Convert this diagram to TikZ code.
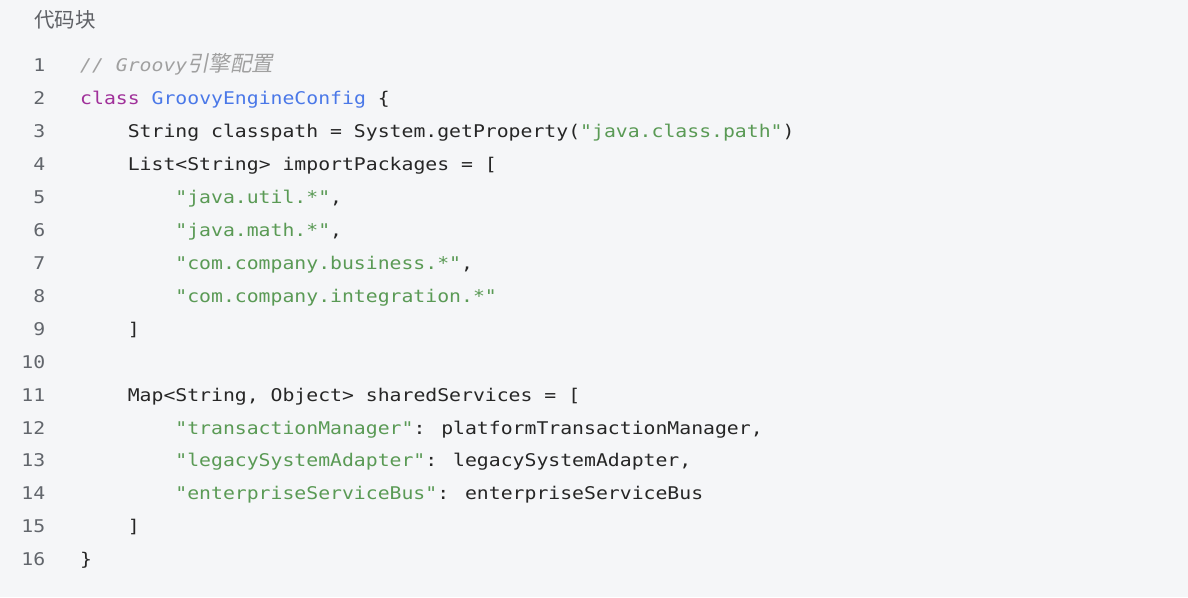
\documentclass[tikz,border=0pt]{standalone}
\usepackage{fontspec}
\newfontfamily\codefont{DejaVu Sans Mono}[FakeStretch=1.13]
\newfontfamily\cjkfont{Noto Sans CJK SC}
\newfontfamily\cjkit{Noto Sans CJK SC}[FakeSlant=0.2]
\definecolor{codebg}{HTML}{F5F6F8}
\definecolor{hdr}{HTML}{5F6166}
\definecolor{lnum}{HTML}{62666C}
\definecolor{plain}{HTML}{262626}
\definecolor{kw}{HTML}{A0309A}
\definecolor{cls}{HTML}{4A78E8}
\definecolor{str}{HTML}{5A9A55}
\definecolor{cmt}{HTML}{A0A0A0}
\newcommand{\kwd}[1]{\textcolor{kw}{#1}}
\newcommand{\clsn}[1]{\textcolor{cls}{#1}}
\newcommand{\strg}[1]{\textcolor{str}{#1}}
\tikzset{
  codeline/.style={anchor=base west, inner sep=0pt, text=plain,
    font=\codefont\fontsize{17.5}{20}\selectfont},
  linenum/.style={anchor=base east, inner sep=0pt, text=lnum,
    font=\codefont\fontsize{17.5}{20}\selectfont},
  header/.style={anchor=base west, inner sep=0pt, text=hdr,
    font=\cjkfont\fontsize{20.5}{23}\selectfont}
}
\begin{document}
\begin{tikzpicture}[x=1pt,y=-1pt]
\fill[codebg] (0,0) rectangle (1188,597);
\useasboundingbox (0,0) rectangle (1188,597);
\def\lh{32.93}
\def\bl{71.8}
\def\cx{80}
\def\ind{47.6}
\node[header] (hdr) at (34,27.5) {代码块};
% line numbers
\foreach \k in {1,...,16} {
  \node[linenum] (n\k) at (45.5,{\bl+(\k-1)*\lh}) {\k};
}
% code lines
\node[codeline, text=cmt] (c1) at (\cx,{\bl+0*\lh}) {\itshape // Groovy{\cjkit\fontsize{21.5}{23}\selectfont 引擎配置}};
\node[codeline] (c2) at (\cx,{\bl+1*\lh}) {\kwd{class} \clsn{GroovyEngineConfig} \{};
\node[codeline] (c3) at ({\cx+\ind},{\bl+2*\lh}) {String classpath = System.getProperty(\strg{"java.class.path"})};
\node[codeline] (c4) at ({\cx+\ind},{\bl+3*\lh}) {List<String> importPackages = [};
\node[codeline] (c5) at ({\cx+2*\ind},{\bl+4*\lh}) {\strg{"java.util.*"},};
\node[codeline] (c6) at ({\cx+2*\ind},{\bl+5*\lh}) {\strg{"java.math.*"},};
\node[codeline] (c7) at ({\cx+2*\ind},{\bl+6*\lh}) {\strg{"com.company.business.*"},};
\node[codeline] (c8) at ({\cx+2*\ind},{\bl+7*\lh}) {\strg{"com.company.integration.*"}};
\node[codeline] (c9) at ({\cx+\ind},{\bl+8*\lh}) {]};
\node[codeline] (c11) at ({\cx+\ind},{\bl+10*\lh}) {Map<String, Object> sharedServices = [};
\node[codeline] (c12) at ({\cx+2*\ind},{\bl+11*\lh}) {\strg{"transactionManager"}: platformTransactionManager,};
\node[codeline] (c13) at ({\cx+2*\ind},{\bl+12*\lh}) {\strg{"legacySystemAdapter"}: legacySystemAdapter,};
\node[codeline] (c14) at ({\cx+2*\ind},{\bl+13*\lh}) {\strg{"enterpriseServiceBus"}: enterpriseServiceBus};
\node[codeline] (c15) at ({\cx+\ind},{\bl+14*\lh}) {]};
\node[codeline] (c16) at (\cx,{\bl+15*\lh}) {\}};
\end{tikzpicture}
\end{document}
